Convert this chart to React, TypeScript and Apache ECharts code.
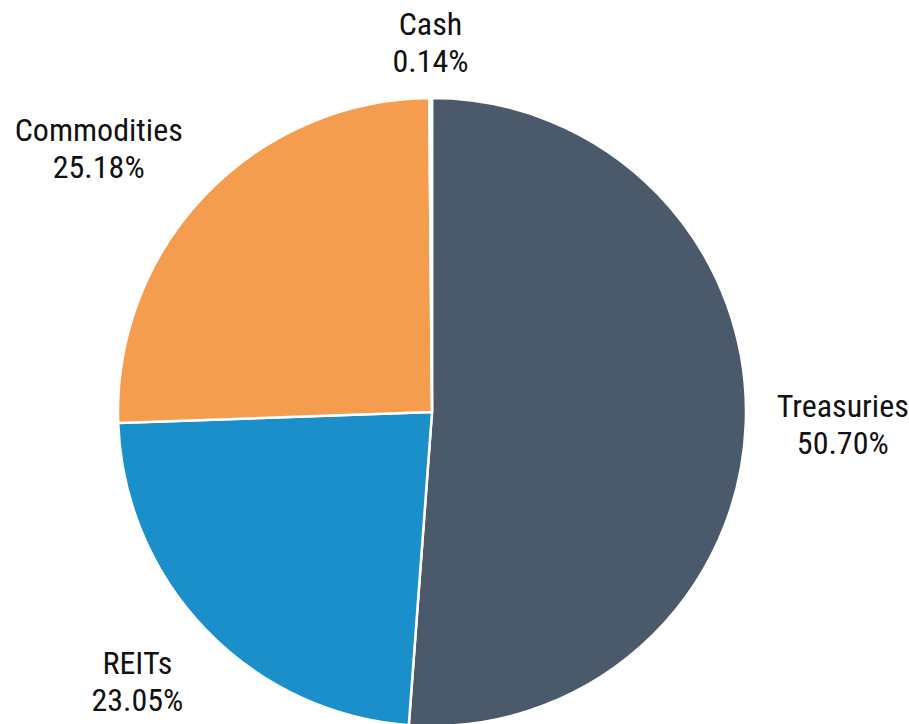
import React, { useEffect, useRef } from "react";
import * as echarts from "echarts";

const categories = ["Treasuries", "REITs", "Commodities", "Cash"];
const values = [50.7, 23.05, 25.18, 0.14];
const colors = ["#4b5a6b", "#1a8fca", "#f59d4e", "#fafafa"];

const CX = 432;
const CY = 412;
const R = 314;
const LABEL_GAP = 31;

export default function App() {
  const ref = useRef<HTMLDivElement>(null);
  useEffect(() => {
    if (!ref.current) return;
    const chart = echarts.init(ref.current, undefined, { renderer: "svg" });
    const total = values.reduce((a, b) => a + b, 0);
    const mids: number[] = [];
    let acc = 0;
    values.forEach((v) => {
      mids.push(((acc + v / 2) / total) * Math.PI * 2);
      acc += v;
    });
    chart.setOption({
      animation: false,
      backgroundColor: "#ffffff",
      series: [
        {
          type: "pie",
          center: [CX, CY],
          radius: R,
          startAngle: 90,
          clockwise: true,
          avoidLabelOverlap: false,
          itemStyle: { borderColor: "#ffffff", borderWidth: 2.5 },
          label: {
            show: true,
            position: "outside",
            fontFamily: "'Roboto Condensed', Roboto, sans-serif",
            fontSize: 32,
            lineHeight: 37,
            color: "#111111",
            formatter: (p: any) => `${p.name}\n${Number(p.value).toFixed(2)}%`,
          },
          labelLine: { show: false },
          labelLayout: (params: any) => {
            const a = mids[params.dataIndex];
            const dx = Math.sin(a);
            const dy = -Math.cos(a);
            const w = params.labelRect ? params.labelRect.width : 0;
            let x = CX + (R + LABEL_GAP) * dx;
            let y = CY + (R + LABEL_GAP) * dy;
            if (dx > 0.15) x += w / 2;
            else if (dx < -0.15) x -= w / 2;
            let verticalAlign = "middle";
            if (Math.abs(dy) >= 0.3) {
              if (dy < 0) {
                verticalAlign = "bottom";
                y += 12;
              } else {
                verticalAlign = "top";
                y -= 7;
              }
            }
            return { x, y, align: "center", verticalAlign };
          },
          data: categories.map((name, i) => ({
            name,
            value: values[i],
            itemStyle: { color: colors[i] },
          })),
        },
      ],
    });
    return () => chart.dispose();
  }, []);
  return (
    <div
      ref={ref}
      style={{ position: "absolute", left: 0, top: 0, width: 909, height: 724 }}
    />
  );
}
